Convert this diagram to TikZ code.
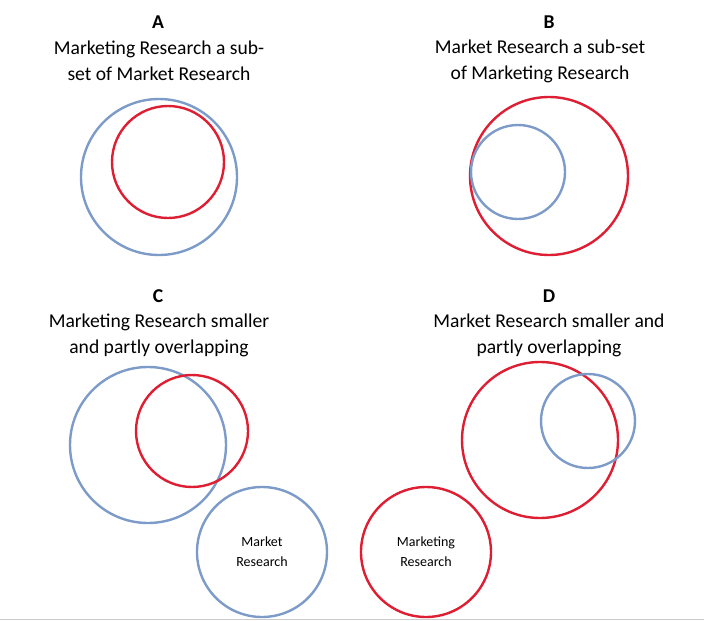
\documentclass[tikz,border=0pt]{standalone}
\usepackage{fontspec}
\setmainfont{Carlito}
\definecolor{setblue}{RGB}{125,155,200}
\definecolor{setred}{RGB}{222,30,50}
\tikzset{
  blueset/.style={draw=setblue, line width=2.4pt, circle},
  redset/.style={draw=setred, line width=2.4pt, circle},
  caption/.style={align=center, font=\fontsize{19.6}{26}\selectfont},
  letter/.style={font=\fontsize{19.6}{26}\selectfont\bfseries},
  legend/.style={align=center, font=\fontsize{14}{20}\selectfont}
}
\begin{document}
\begin{tikzpicture}[x=1pt, y=-1pt]
  \useasboundingbox (0,0) rectangle (704,621);
  \draw[gray!40] (0,619) -- (704,619);

  % A
  \node[letter] (la) at (158,22) {A};
  \node[caption] (ca) at (159,61) {Marketing Research a sub-\\set of Market Research};
  \node[blueset, minimum size=156pt] (aout) at (159,177) {};
  \node[redset, minimum size=112pt] (ain) at (168,162) {};

  % B
  \node[letter] (lb) at (549,22) {B};
  \node[caption] (cb) at (540,61) {Market Research a sub-set\\of Marketing Research};
  \node[redset, minimum size=158pt] (bout) at (549,176) {};
  \node[blueset, minimum size=94pt] (bin) at (518,172) {};

  % C
  \node[letter] (lc) at (158,296) {C};
  \node[caption] (cc) at (159,335) {Marketing Research smaller\\and partly overlapping};
  \node[blueset, minimum size=156pt] (cbig) at (148,445) {};
  \node[redset, minimum size=112pt] (csmall) at (192,431) {};

  % D
  \node[letter] (ld) at (549,296) {D};
  \node[caption] (cd) at (549,335) {Market Research smaller and\\partly overlapping};
  \node[redset, minimum size=156pt] (dbig) at (540,440) {};
  \node[blueset, minimum size=94pt] (dsmall) at (588,421) {};

  % legend
  \node[blueset, minimum size=130pt, legend] (mr) at (262,552) {Market\\Research};
  \node[redset, minimum size=130pt, legend] (mkr) at (426,552) {Marketing\\Research};
\end{tikzpicture}
\end{document}
